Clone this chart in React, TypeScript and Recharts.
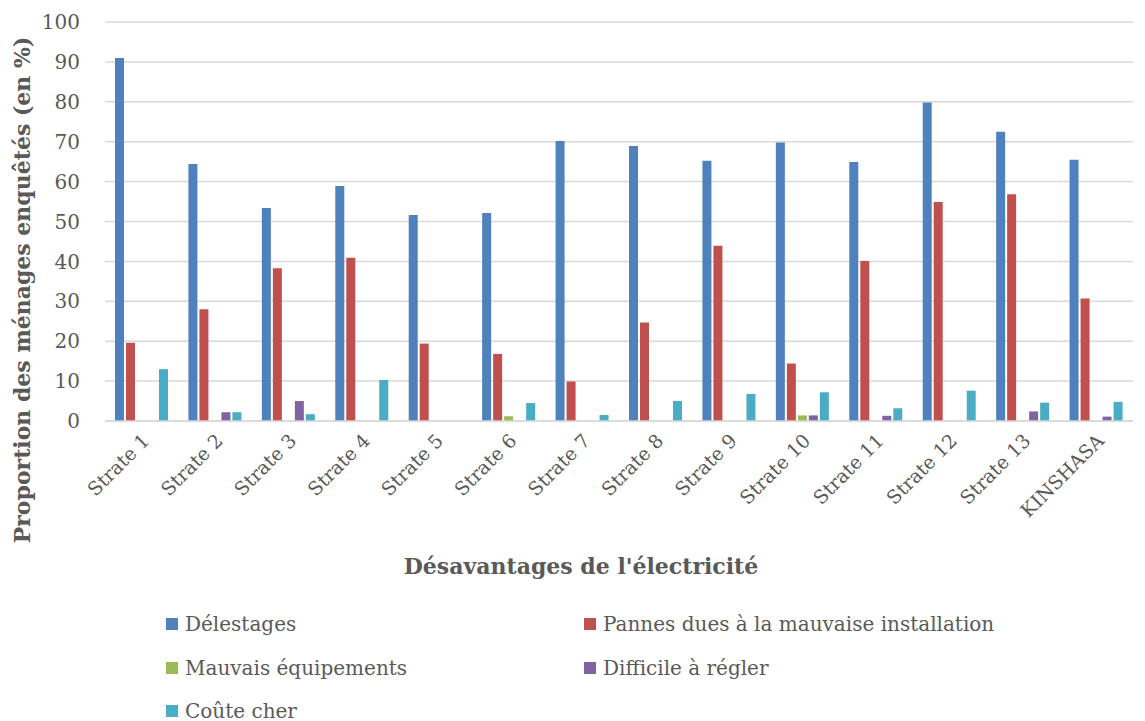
import React from "react"
import { BarChart, Bar, XAxis, YAxis, CartesianGrid } from "recharts"

const CATEGORIES = [
  "Strate 1", "Strate 2", "Strate 3", "Strate 4", "Strate 5", "Strate 6", "Strate 7",
  "Strate 8", "Strate 9", "Strate 10", "Strate 11", "Strate 12", "Strate 13", "KINSHASA",
]

const DELESTAGES = [91.0, 64.4, 53.4, 58.9, 51.6, 52.1, 70.2, 68.9, 65.2, 69.8, 64.9, 79.8, 72.5, 65.5]
const PANNES = [19.6, 28.0, 38.3, 40.9, 19.4, 16.8, 9.9, 24.7, 43.9, 14.4, 40.1, 54.9, 56.8, 30.7]
const MAUVAIS = [0, 0, 0, 0, 0, 1.2, 0, 0, 0, 1.4, 0, 0, 0, 0]
const DIFFICILE = [0, 2.2, 5.0, 0, 0, 0, 0, 0, 0, 1.4, 1.3, 0, 2.4, 1.1]
const COUTE = [13.0, 2.2, 1.7, 10.3, 0, 4.5, 1.5, 5.0, 6.8, 7.2, 3.2, 7.6, 4.6, 4.8]

const Y_TICKS = [0, 10, 20, 30, 40, 50, 60, 70, 80, 90, 100]

const SERIES = [
  { key: "Délestages", values: DELESTAGES, color: "#4F81BD" },
  { key: "Pannes dues à la mauvaise installation", values: PANNES, color: "#C0504D" },
  { key: "Mauvais équipements", values: MAUVAIS, color: "#9BBB59" },
  { key: "Difficile à régler", values: DIFFICILE, color: "#8064A2" },
  { key: "Coûte cher", values: COUTE, color: "#4BACC6" },
]

const data = CATEGORIES.map((name, i) => {
  const row: Record<string, string | number> = { name }
  SERIES.forEach(s => { row[s.key] = s.values[i] })
  return row
})

const FONT = "'DejaVu Serif', serif"
const TEXT = "#595959"

const XTick = ({ x, y, payload }: any) => (
  <g transform={`translate(${x + 4},${y + 8})`}>
    <text textAnchor="end" transform="rotate(-45)" fontSize={19} fill={TEXT} fontFamily={FONT} dy={7}>
      {payload.value}
    </text>
  </g>
)

export default function App() {
  return (
    <div style={{ position: "absolute", left: 0, top: 0, width: 1145, height: 721, background: "#fff", fontFamily: FONT }}>
      <BarChart
        width={1145}
        height={721}
        data={data}
        margin={{ top: 22, right: 12, bottom: 200, left: 45 }}
        barSize={9}
        barGap={2}
      >
        <CartesianGrid vertical={false} stroke="#d9d9d9" strokeWidth={1.5} />
        <XAxis
          dataKey="name"
          height={100}
          interval={0}
          tick={<XTick />}
          tickLine={false}
          axisLine={{ stroke: "#d9d9d9", strokeWidth: 1.5 }}
        />
        <YAxis
          width={60}
          domain={[0, 100]}
          ticks={Y_TICKS}
          tickLine={false}
          axisLine={false}
          tickMargin={19}
          tick={{ fontSize: 20, fill: TEXT, fontFamily: FONT }}
        />
        {SERIES.map(s => (
          <Bar key={s.key} dataKey={s.key} fill={s.color} isAnimationActive={false} />
        ))}
      </BarChart>

      {/* axis titles */}
      <div
        style={{
          position: "absolute", left: 22, top: 290, transform: "translate(-50%, -50%) rotate(-90deg)",
          whiteSpace: "nowrap", fontSize: 22, fontWeight: "bold", color: TEXT,
        }}
      >
        Proportion des ménages enquêtés (en %)
      </div>
      <div
        style={{
          position: "absolute", left: 581, top: 566, transform: "translate(-50%, -50%)",
          whiteSpace: "nowrap", fontSize: 22, fontWeight: "bold", color: TEXT,
        }}
      >
        Désavantages de l'électricité
      </div>

      {/* legend */}
      {SERIES.map((s, i) => (
        <div
          key={s.key}
          style={{
            position: "absolute",
            left: i % 2 === 0 ? 166 : 584,
            top: 624 + Math.floor(i / 2) * 43.5,
            transform: "translateY(-50%)",
            display: "flex", alignItems: "center", gap: 7,
            fontSize: 20, color: TEXT, whiteSpace: "nowrap",
          }}
        >
          <span style={{ width: 12, height: 12, background: s.color, display: "inline-block" }} />
          <span>{s.key}</span>
        </div>
      ))}
    </div>
  )
}
